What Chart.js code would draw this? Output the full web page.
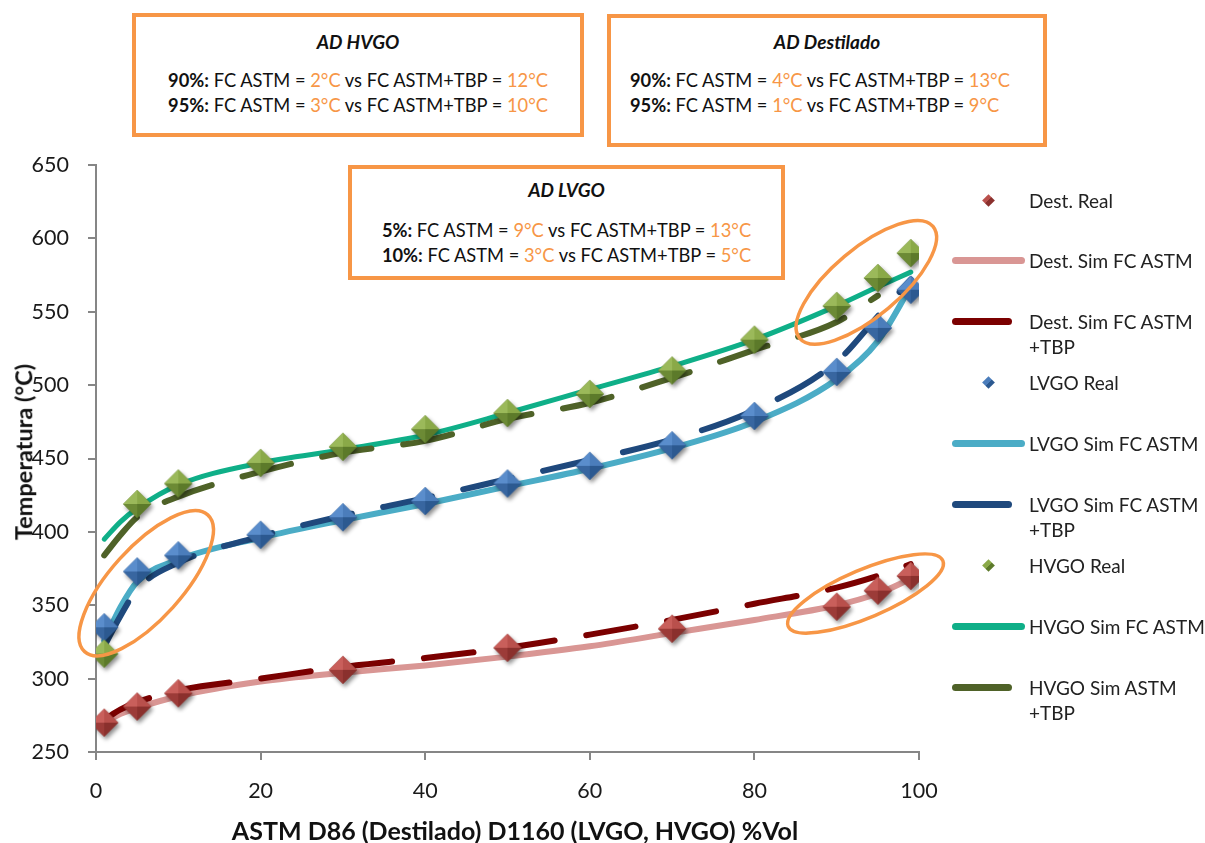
<!DOCTYPE html>
<html>
<head>
<meta charset="utf-8">
<script src="https://cdn.jsdelivr.net/npm/chart.js@4.4.1/dist/chart.umd.min.js"></script>
<style>
  body { margin: 0; background: #fff; font-family: Lato, sans-serif; }
  #wrap { position: relative; width: 1205px; height: 843px; overflow: hidden; }
  #chart { position: absolute; left: 0; top: 0; }
  .box { position: absolute; box-sizing: border-box; border: 4px solid #F79646; background: #fff; }
  .box div { position: absolute; left: 0; right: 0; text-align: center; font-size: 18.3px; line-height: 20px; white-space: nowrap; color: #111; }
  .box .ttl { font-weight: bold; font-style: italic; font-size: 19px; }
  .box .left { text-align: left; }
  .o { color: #F79646; }
  b { font-weight: bold; }
  .axt { position: absolute; font-weight: bold; white-space: nowrap; color: #111; line-height: 1; }
  .lg-text { position: absolute; left: 1029px; font-size: 19px; line-height: 25px; color: #222; white-space: pre; }
  .lg-line { position: absolute; left: 952px; height: 7px; border-radius: 4px; }
  .lg-dot { position: absolute; width: 9px; height: 9px; transform: rotate(45deg); }
</style>
</head>
<body>
<div id="wrap">
  <canvas id="chart" width="1205" height="843"></canvas>

  <div class="box" style="left:132px;top:13px;width:452px;height:124px">
    <div class="ttl" style="top:15px">AD HVGO</div>
    <div style="top:53px"><b>90%:</b> FC ASTM = <span class="o">2°C</span> vs FC ASTM+TBP = <span class="o">12°C</span></div>
    <div style="top:78px"><b>95%:</b> FC ASTM = <span class="o">3°C</span> vs FC ASTM+TBP = <span class="o">10°C</span></div>
  </div>

  <div class="box" style="left:607px;top:14px;width:440px;height:133px">
    <div class="ttl" style="top:14px">AD Destilado</div>
    <div class="left" style="top:52px;left:19px"><b>90%:</b> FC ASTM = <span class="o">4°C</span> vs FC ASTM+TBP = <span class="o">13°C</span></div>
    <div class="left" style="top:77px;left:19px"><b>95%:</b> FC ASTM = <span class="o">1°C</span> vs FC ASTM+TBP = <span class="o">9°C</span></div>
  </div>

  <div class="box" style="left:348px;top:165px;width:437px;height:115px">
    <div class="ttl" style="top:11px">AD LVGO</div>
    <div style="top:51px"><b>5%:</b> FC ASTM = <span class="o">9°C</span> vs FC ASTM+TBP = <span class="o">13°C</span></div>
    <div style="top:76px"><b>10%:</b> FC ASTM = <span class="o">3°C</span> vs FC ASTM+TBP = <span class="o">5°C</span></div>
  </div>

  <div class="axt" id="ytitle" style="font-size:23.5px;left:24px;top:452px;transform:translate(-50%,-50%) rotate(-90deg)">Temperatura (°C)</div>
  <div class="axt" id="xtitle" style="font-size:25px;left:515px;top:830px;transform:translate(-50%,-50%)">ASTM D86 (Destilado) D1160 (LVGO, HVGO) %Vol</div>
  <div id="legend"></div>
</div>

<script>
// ── data ──────────────────────────────────────────────────── //
const destRealX = [1, 5, 10, 30, 50, 70, 90, 95, 99];
const destRealY = [270, 281, 290, 306, 321, 334, 349, 360, 370];

const simX       = [1, 3, 5, 10, 20, 30, 40, 50, 60, 70, 80, 90, 95, 99];
const destSimFc  = [270, 276, 280, 288, 298, 304, 309, 315, 322, 331, 340, 350, 358, 368];
const destSimTbp = [272, 279, 284, 292, 300, 308, 314, 321, 330, 340, 351, 362, 370, 378];

const realX      = [1, 5, 10, 20, 30, 40, 50, 60, 70, 80, 90, 95, 99];
const lvgoRealY  = [335, 373, 384, 398, 410, 421, 433, 445, 459, 479, 509, 539, 565];
const lvgoSimFc  = [326, 349, 366, 381, 396, 408, 419, 431, 443, 457, 475, 504, 530, 567];
const lvgoSimTbp = [322, 343, 361, 379, 397, 411, 423, 436, 449, 463, 483, 516, 547, 572];

const hvgoRealY  = [317, 419, 433, 447, 458, 470, 481, 494, 510, 531, 554, 573, 590];
const hvgoSimFc  = [395, 407, 416, 432, 447, 456, 466, 481, 497, 513, 531, 554, 567, 577];
const hvgoTbpX   = [1, 3, 5, 10, 20, 30, 40, 50, 60, 70, 80, 90, 95];
const hvgoSimTbp = [384, 398, 410, 424, 441, 454, 462, 477, 488, 505, 524, 543, 561];

const xTicks = [0, 20, 40, 60, 80, 100];
const yTicks = [250, 300, 350, 400, 450, 500, 550, 600, 650];

const legendLabels = [
  'Dest. Real', 'Dest. Sim FC ASTM', 'Dest. Sim FC ASTM\n+TBP',
  'LVGO Real', 'LVGO Sim FC ASTM', 'LVGO Sim FC ASTM\n+TBP',
  'HVGO Real', 'HVGO Sim FC ASTM', 'HVGO Sim ASTM\n+TBP',
];

// highlight ellipses (centre in data units, radii in px)
const highlights = [
  { x: 6.1,  y: 365, rx: 92, ry: 36, angle: -48 },
  { x: 93.6, y: 570, rx: 87, ry: 34, angle: -40 },
  { x: 93.5, y: 358, rx: 84, ry: 24, angle: -23 },
];

const pts = (xs, ys) => ys.map((y, i) => ({ x: xs[i], y }));

/** Bevelled diamond marker: facets TR, BR, BL, TL */
function makeDiamond(facets, r) {
  const pad = 7;
  const c = document.createElement('canvas');
  c.width = c.height = 2 * (r + pad);
  const g = c.getContext('2d');
  const m = r + pad;
  const corners = [[m, m - r], [m + r, m], [m, m + r], [m - r, m]];
  g.save();
  g.shadowColor = 'rgba(0,0,0,0.45)';
  g.shadowBlur = 4;
  g.shadowOffsetX = 2;
  g.shadowOffsetY = 3;
  g.beginPath();
  corners.forEach((p, i) => (i ? g.lineTo(p[0], p[1]) : g.moveTo(p[0], p[1])));
  g.closePath();
  g.fillStyle = facets[1];
  g.fill();
  g.restore();
  for (let i = 0; i < 4; i++) {
    const a = corners[i], b = corners[(i + 1) % 4];
    g.beginPath();
    g.moveTo(m, m);
    g.lineTo(a[0], a[1]);
    g.lineTo(b[0], b[1]);
    g.closePath();
    g.fillStyle = facets[i];
    g.fill();
  }
  return c;
}

const redFacets   = ['#b9504c', '#8a302d', '#9c3b38', '#c95f5b'];
const blueFacets  = ['#4b7dbb', '#2c5990', '#3866a0', '#5a8dcc'];
const greenFacets = ['#8aa948', '#5c7a2a', '#6c8a35', '#9bb95a'];

const dash = [50, 32];

function simLine(label, data, color, order, dashed, width) {
  return {
    label, data, order,
    showLine: true,
    borderColor: color,
    backgroundColor: color,
    borderWidth: width || 6,
    borderDash: dashed ? dash : [],
    borderCapStyle: 'round',
    borderJoinStyle: 'round',
    cubicInterpolationMode: 'monotone',
    pointRadius: 0,
    pointHoverRadius: 0,
  };
}

function realPoints(label, data, facets, order) {
  return {
    label, data, order,
    showLine: false,
    pointStyle: makeDiamond(facets, 14),
    pointRadius: 14,
    backgroundColor: facets[0],
    borderColor: facets[1],
  };
}

const ellipsePlugin = {
  id: 'highlightEllipses',
  afterDatasetsDraw(chart) {
    const { ctx, scales: { x, y } } = chart;
    ctx.save();
    ctx.strokeStyle = '#F79646';
    ctx.lineWidth = 3.5;
    highlights.forEach(h => {
      ctx.beginPath();
      ctx.ellipse(x.getPixelForValue(h.x), y.getPixelForValue(h.y), h.rx, h.ry, h.angle * Math.PI / 180, 0, Math.PI * 2);
      ctx.stroke();
    });
    ctx.restore();
  },
};

Chart.defaults.font.family = 'Lato';

const chart = new Chart(document.getElementById('chart'), {
  type: 'scatter',
  plugins: [ellipsePlugin],
  data: {
    datasets: [
      realPoints('Dest. Real', pts(destRealX, destRealY), redFacets, -1),
      simLine('Dest. Sim FC ASTM', pts(simX, destSimFc), '#D99694', 9, false),
      simLine('Dest. Sim FC ASTM +TBP', pts(simX, destSimTbp), '#7B0000', 8, true),
      realPoints('LVGO Real', pts(realX, lvgoRealY), blueFacets, -2),
      simLine('LVGO Sim FC ASTM', pts(simX, lvgoSimFc), '#4BACC6', 7, false),
      simLine('LVGO Sim FC ASTM +TBP', pts(simX, lvgoSimTbp), '#1F497D', 6, true),
      realPoints('HVGO Real', pts(realX, hvgoRealY), greenFacets, -3),
      simLine('HVGO Sim FC ASTM', pts(simX, hvgoSimFc), '#0FAF88', 5, false, 5),
      simLine('HVGO Sim ASTM +TBP', pts(hvgoTbpX, hvgoSimTbp), '#4F6228', 4, true),
    ],
  },
  options: {
    responsive: false,
    animation: false,
    layout: { padding: { top: 165, right: 286, bottom: 0, left: 0 } },
    plugins: { legend: { display: false }, tooltip: { enabled: false } },
    scales: {
      x: {
        type: 'linear',
        min: 0, max: 100,
        afterFit(s) { s.height = 91; },
        afterBuildTicks(s) { s.ticks = xTicks.map(v => ({ value: v })); },
        grid: { drawOnChartArea: false, tickLength: 8, color: '#868686', lineWidth: 2 },
        border: { color: '#868686', width: 2 },
        ticks: { color: '#1a1a1a', padding: 18, font: { size: 21.5 } },
      },
      y: {
        type: 'linear',
        min: 250, max: 650,
        afterFit(s) { s.width = 96; },
        afterBuildTicks(s) { s.ticks = yTicks.map(v => ({ value: v })); },
        grid: { drawOnChartArea: false, tickLength: 8, color: '#868686', lineWidth: 2 },
        border: { color: '#868686', width: 2 },
        ticks: { color: '#1a1a1a', padding: 19, font: { size: 21.5 } },
      },
    },
  },
});

// ── legend on the right, built from the datasets ─────────── //
const legend = document.getElementById('legend');
chart.data.datasets.forEach((ds, i) => {
  const y = 200 + i * 60.9;
  if (ds.showLine) {
    const sw = document.createElement('div');
    sw.className = 'lg-line';
    sw.style.top = (y - 3.5) + 'px';
    sw.style.width = (ds.borderDash.length ? 60 : 73) + 'px';
    sw.style.background = ds.borderColor;
    legend.appendChild(sw);
  } else {
    const d = document.createElement('div');
    d.className = 'lg-dot';
    d.style.left = (988 - 4.5) + 'px';
    d.style.top = (y - 4.5) + 'px';
    d.style.background = `linear-gradient(90deg, ${ds.backgroundColor} 50%, ${ds.borderColor} 50%)`;
    legend.appendChild(d);
  }
  const t = document.createElement('div');
  t.className = 'lg-text';
  t.style.top = (y - 12.5) + 'px';
  t.textContent = legendLabels[i];
  legend.appendChild(t);
});
</script>
</body>
</html>
